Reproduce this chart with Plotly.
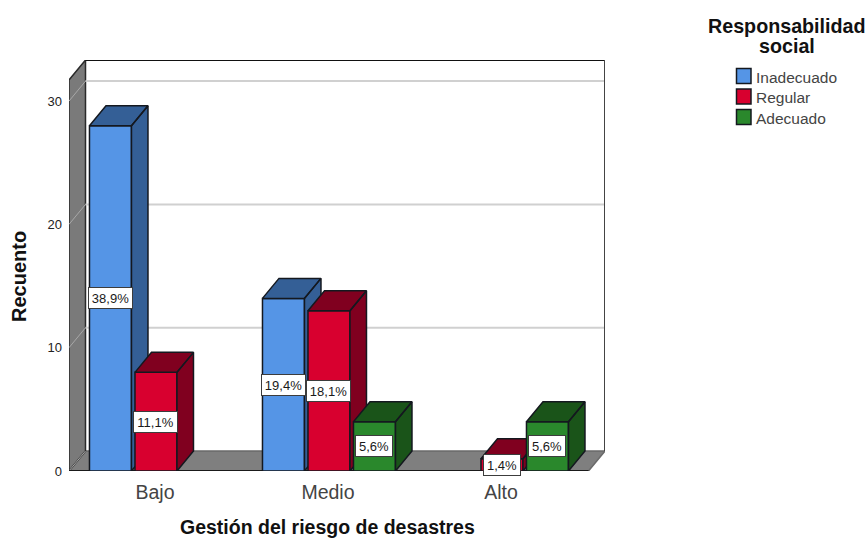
"""
Grouped 3D-look bar chart: front faces are bars, sides and walls are filled scatters.
"""

import plotly.graph_objects as go

categories = ["Bajo", "Medio", "Alto"]
series_names = ["Inadecuado", "Regular", "Adecuado"]
inadecuado = [28, 14, 0]
regular = [8, 13, 1]
adecuado = [0, 4, 4]
labels_inadecuado = ["38,9%", "19,4%", ""]
labels_regular = ["11,1%", "18,1%", "1,4%"]
labels_adecuado = ["", "5,6%", "5,6%"]
y_ticks = [0, 10, 20, 30]
legend_title = ["Responsabilidad", "social"]

WIDTH, HEIGHT = 868, 540
FONT = "Liberation Sans"
EDGE = "#14181f"
FRONT_COLORS = ["#5595e6", "#d8002f", "#2a882c"]
DARK_COLORS = ["#345f96", "#80001f", "#1a5419"]

# pixel box of the plot, walls included
PX_LEFT, PX_RIGHT, PX_TOP, PX_BOTTOM = 69, 605, 60, 471
PX_PER_X = 173
PX_PER_Y = 12.33

X_MIN = -0.497
X_MAX = X_MIN + (PX_RIGHT - PX_LEFT) / PX_PER_X
Y_MAX = (PX_BOTTOM - PX_TOP) / PX_PER_Y
DX = 16.5 / PX_PER_X  # depth of the box, in data units
DY = 20 / PX_PER_Y
X_FRONT_MAX = X_MAX - DX
Y_FRONT_MAX = Y_MAX - DY

BAR_W = 42 / PX_PER_X
BAR_STEP = 45.5 / PX_PER_X
BAR_SHIFT = 1 / PX_PER_X  # bars sit a pixel right of the category tick


def polygons(*polys):
    xs, ys = [], []
    for poly in polys:
        xs += [p[0] for p in poly] + [poly[0][0], None]
        ys += [p[1] for p in poly] + [poly[0][1], None]
    return xs, ys


def add_poly(fig, polys, fill, line_color=EDGE, line_width=1.5, xaxis="x", yaxis="y"):
    xs, ys = polygons(*polys)
    fig.add_trace(go.Scatter(
        x=xs, y=ys, mode="lines", fill="toself", fillcolor=fill,
        line=dict(color=line_color, width=line_width),
        xaxis=xaxis, yaxis=yaxis, showlegend=False, hoverinfo="skip", cliponaxis=False,
    ))


def add_line(fig, xs, ys, color, width):
    fig.add_trace(go.Scatter(
        x=xs, y=ys, mode="lines", line=dict(color=color, width=width),
        showlegend=False, hoverinfo="skip", cliponaxis=False,
    ))


def add_series(fig, values, name, front, dark, slot, xaxis, yaxis):
    """One series on its own overlay axes, so the next series covers its side faces."""
    offset = (slot - 1) * BAR_STEP - BAR_W / 2 + BAR_SHIFT
    fig.add_trace(go.Bar(
        x=list(range(len(values))),
        y=[v if v else None for v in values],
        width=BAR_W, offset=offset, name=name,
        marker=dict(color=front, line=dict(color=EDGE, width=1.5)),
        xaxis=xaxis, yaxis=yaxis, cliponaxis=False,
    ))
    polys = []
    for i, v in enumerate(values):
        if not v:
            continue
        x0 = i + offset
        x1 = x0 + BAR_W
        polys.append([(x1, 0), (x1 + DX, DY), (x1 + DX, v + DY), (x1, v)])
        polys.append([(x0, v), (x1, v), (x1 + DX, v + DY), (x0 + DX, v + DY)])
    add_poly(fig, polys, dark, xaxis=xaxis, yaxis=yaxis)


def paper_text(px, py, text, size, color="#111111", angle=0, xanchor="center"):
    return dict(
        x=px / WIDTH, y=1 - py / HEIGHT, xref="paper", yref="paper", showarrow=False,
        xanchor=xanchor, yanchor="middle",
        text=text, textangle=angle, font=dict(family=FONT, size=size, color=color),
    )


fig = go.Figure()

# walls and grid
add_poly(fig, [[(X_MIN, 0), (X_FRONT_MAX, 0), (X_MAX, DY), (X_MIN + DX, DY)]], "#7f7f7f", "#6a6a6a", 1.5)
add_poly(fig, [[(X_MIN, 0), (X_MIN + DX, DY), (X_MIN + DX, Y_MAX), (X_MIN, Y_FRONT_MAX)]], "#7a7a7a", "#2a2a2a", 1.5)
for t in y_ticks:
    add_line(fig, [X_MIN, X_MIN + DX], [t, t + DY], "#a8a8a8", 1)
    if t:
        add_line(fig, [X_MIN + DX, X_MAX], [t + DY, t + DY], "#d0d0d0", 2)
add_line(fig, [X_MIN + DX, X_MAX], [Y_MAX, Y_MAX], "#111111", 2)
add_line(fig, [X_MAX, X_MAX], [DY, Y_MAX], "#444444", 2)
add_line(fig, [X_MIN, X_FRONT_MAX], [0, 0], "#1a1a1a", 2)

add_series(fig, inadecuado, series_names[0], FRONT_COLORS[0], DARK_COLORS[0], 0, "x2", "y2")
add_series(fig, regular, series_names[1], FRONT_COLORS[1], DARK_COLORS[1], 1, "x3", "y3")
add_series(fig, adecuado, series_names[2], FRONT_COLORS[2], DARK_COLORS[2], 2, "x4", "y4")

annotations = []
for slot, (values, labels) in enumerate([
    (inadecuado, labels_inadecuado),
    (regular, labels_regular),
    (adecuado, labels_adecuado),
]):
    for i, (v, text) in enumerate(zip(values, labels)):
        if not text:
            continue
        annotations.append(dict(
            x=i + (slot - 1) * BAR_STEP + BAR_SHIFT, y=v / 2, xref="x", yref="y", text=text,
            showarrow=False, bgcolor="white", bordercolor="#3c3c3c", borderwidth=1,
            borderpad=0, width=43 if len(text) > 4 else 36, height=20,
            font=dict(family=FONT, size=13, color="#1a1a1a"),
        ))

annotations.append(paper_text(327.5, 527, "<b>Gestión del riesgo de desastres</b>", 19.5))
annotations.append(paper_text(19, 277, "<b>Recuento</b>", 20, angle=-90))
annotations.append(paper_text(787, 26, f"<b>{legend_title[0]}</b>", 19.7))
annotations.append(paper_text(787, 46, f"<b>{legend_title[1]}</b>", 19.7))

# legend drawn by hand: swatch close to its text, rows tighter than the built-in one
shapes = []
for row, (name, color) in enumerate(zip(series_names, FRONT_COLORS)):
    py = 76 + row * 20.5
    shapes.append(dict(
        type="rect", xref="paper", yref="paper",
        x0=736.5 / WIDTH, x1=751 / WIDTH, y0=1 - (py + 7.5) / HEIGHT, y1=1 - (py - 7.5) / HEIGHT,
        fillcolor=color, line=dict(color=EDGE, width=1.5),
    ))
    annotations.append(paper_text(754, py + 1, name, 15.5, color="#444444", xanchor="left"))

x_range = [X_MIN, X_MAX]
y_range = [0, Y_MAX]
hidden = dict(visible=False, fixedrange=True, automargin=False)

fig.update_layout(
    width=WIDTH, height=HEIGHT,
    margin=dict(l=0, r=0, t=0, b=0),
    paper_bgcolor="white", plot_bgcolor="white",
    font=dict(family=FONT),
    barmode="overlay",
    showlegend=False,
    xaxis=dict(
        domain=[PX_LEFT / WIDTH, PX_RIGHT / WIDTH], range=x_range, automargin=False,
        tickmode="array", tickvals=list(range(len(categories))), ticktext=categories,
        ticks="", showgrid=False, zeroline=False, showline=False,
        tickfont=dict(family=FONT, size=19.5, color="#444444"), ticklabelstandoff=7,
    ),
    yaxis=dict(
        domain=[1 - PX_BOTTOM / HEIGHT, 1 - PX_TOP / HEIGHT], range=y_range, automargin=False,
        tickmode="array", tickvals=y_ticks,
        ticks="", showgrid=False, zeroline=False, showline=False,
        tickfont=dict(family=FONT, size=13, color="#222222"), ticklabelstandoff=6,
    ),
    xaxis2=dict(overlaying="x", range=x_range, **hidden),
    yaxis2=dict(overlaying="y", range=y_range, **hidden),
    xaxis3=dict(overlaying="x", range=x_range, **hidden),
    yaxis3=dict(overlaying="y", range=y_range, **hidden),
    xaxis4=dict(overlaying="x", range=x_range, **hidden),
    yaxis4=dict(overlaying="y", range=y_range, **hidden),
    annotations=annotations,
    shapes=shapes,
)

# the page body has a default 8px margin that would shift the whole figure
fig.write_html(
    "out.html", config=dict(displayModeBar=False),
    post_script="document.body.style.margin='0';",
)
